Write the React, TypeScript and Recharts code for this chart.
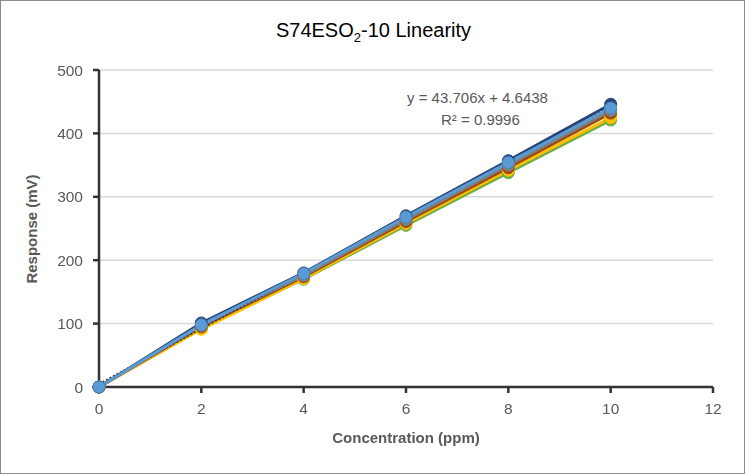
import { LineChart, Line, XAxis, YAxis, CartesianGrid } from 'recharts'

const conc = [0, 2, 4, 6, 8, 10]
const green = [0, 93, 170, 255, 338, 421]
const yellow = [0, 91, 171, 258, 342, 425]
const brown = [0, 95, 174, 261, 346, 432]
const gray = [0, 97, 176, 264, 350, 436]
const navy = [0, 101, 180, 270, 357, 446]
const blue = [0, 98, 179, 268, 354, 440]
const trend = [4.64, 92.06, 179.47, 266.88, 354.29, 441.7]
const xTicks = [0, 2, 4, 6, 8, 10, 12]
const yTicks = [0, 100, 200, 300, 400, 500]

const data = conc.map((c, i) => ({
  c,
  green: green[i],
  yellow: yellow[i],
  brown: brown[i],
  gray: gray[i],
  navy: navy[i],
  blue: blue[i],
  trend: trend[i],
}))

const font = 'Arial, "Liberation Sans", sans-serif'
const tick = { fontSize: 15.5, fill: '#595959', fontFamily: font }
const axisLine = { stroke: '#333333', strokeWidth: 2.5 }

const series = [
  { key: 'green', color: '#70AD47' },
  { key: 'yellow', color: '#FFC000' },
  { key: 'brown', color: '#9E480E' },
  { key: 'gray', color: '#7F7F7F' },
  { key: 'navy', color: '#264478' },
]

export default function App() {
  return (
    <div style={{ position: 'fixed', left: 0, top: 0, width: 745, height: 474, background: '#fff', boxSizing: 'border-box', border: '1px solid #8c8c8c', fontFamily: font }}>
      <div style={{ position: 'absolute', top: 18, left: 0, width: 745, textAlign: 'center', fontSize: 20, color: '#000' }}>
        S74ESO<sub style={{ fontSize: 13 }}>2</sub>-10 Linearity
      </div>
      <div style={{ position: 'absolute', top: 88, left: 406, fontSize: 15, color: '#595959' }}>y = 43.706x + 4.6438</div>
      <div style={{ position: 'absolute', top: 110, left: 440, fontSize: 15, color: '#595959' }}>R² = 0.9996</div>
      <div style={{ position: 'absolute', top: 428, left: 0, width: 810, textAlign: 'center', fontSize: 15, fontWeight: 'bold', color: '#595959' }}>
        Concentration (ppm)
      </div>
      <div style={{ position: 'absolute', left: 30, top: 228, transform: 'translate(-50%, -50%) rotate(-90deg)', fontSize: 15, fontWeight: 'bold', color: '#595959', whiteSpace: 'nowrap' }}>
        Response (mV)
      </div>
      <div style={{ position: 'absolute', left: 0, top: 0 }}>
        <LineChart width={745} height={474} data={data} margin={{ top: 69, right: 33, bottom: 58, left: 48 }}>
          <CartesianGrid vertical={false} stroke="#d9d9d9" strokeWidth={1.5} />
          <XAxis dataKey="c" type="number" domain={[0, 12]} ticks={xTicks} tick={tick} axisLine={axisLine} tickLine={axisLine} tickSize={6} tickMargin={10} height={30} />
          <YAxis domain={[0, 500]} ticks={yTicks} tick={tick} axisLine={axisLine} tickLine={axisLine} tickSize={6} tickMargin={10} width={50} />
          {series.map((s) => (
            <Line key={s.key} dataKey={s.key} stroke={s.color} strokeWidth={3} isAnimationActive={false}
              dot={{ r: 6, fill: s.color, stroke: s.color, strokeWidth: 1 }} />
          ))}
          <Line dataKey="trend" stroke="#404040" strokeWidth={2} strokeDasharray="2 2" dot={false} isAnimationActive={false} />
          <Line dataKey="blue" stroke="#5B9BD5" strokeWidth={3} isAnimationActive={false}
            dot={{ r: 6, fill: '#5B9BD5', stroke: '#4A86C0', strokeWidth: 1 }} />
        </LineChart>
      </div>
    </div>
  )
}
